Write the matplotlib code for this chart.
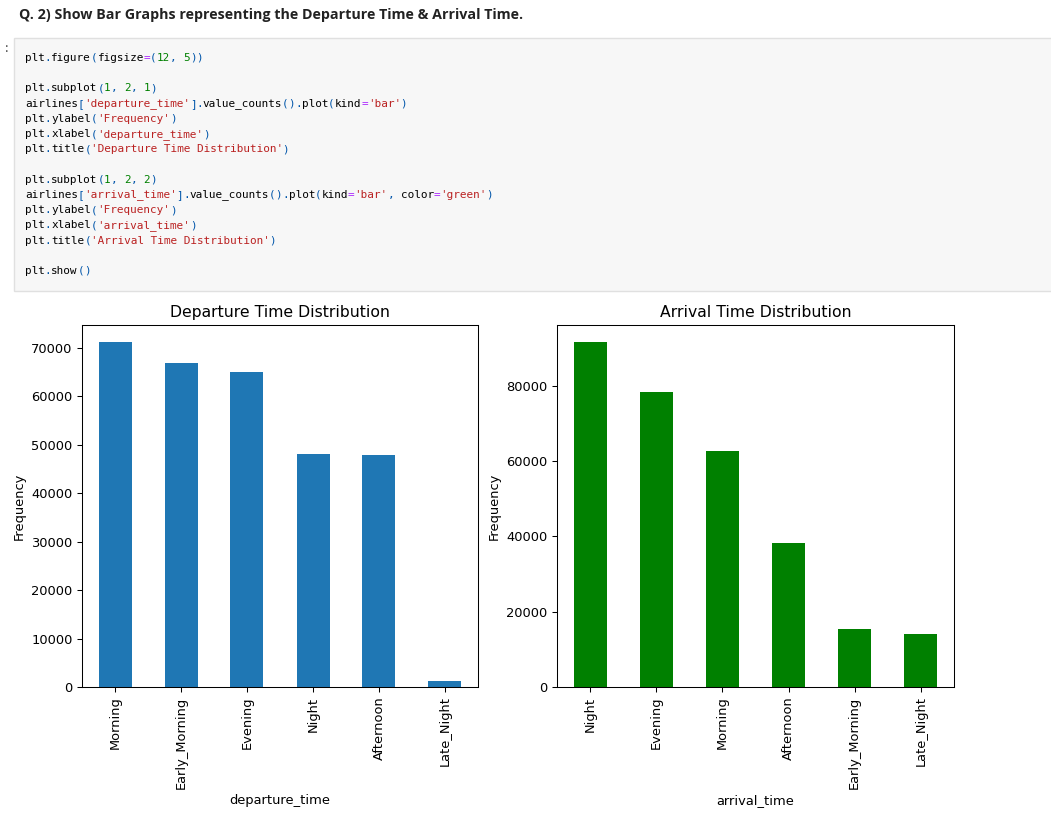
import re
import matplotlib
matplotlib.use("Agg")
import matplotlib.pyplot as plt
from matplotlib.patches import Rectangle

# ---- data ----
dep_categories = ["Morning", "Early_Morning", "Evening", "Night", "Afternoon", "Late_Night"]
dep_counts = [71146, 66790, 65102, 48015, 47794, 1306]
arr_categories = ["Night", "Evening", "Morning", "Afternoon", "Early_Morning", "Late_Night"]
arr_counts = [91538, 78323, 62735, 38139, 15417, 14001]

heading = "Q. 2) Show Bar Graphs representing the Departure Time & Arrival Time."
code_lines = [
    "plt.figure(figsize=(12, 5))",
    "",
    "plt.subplot(1, 2, 1)",
    "airlines['departure_time'].value_counts().plot(kind='bar')",
    "plt.ylabel('Frequency')",
    "plt.xlabel('departure_time')",
    "plt.title('Departure Time Distribution')",
    "",
    "plt.subplot(1, 2, 2)",
    "airlines['arrival_time'].value_counts().plot(kind='bar', color='green')",
    "plt.ylabel('Frequency')",
    "plt.xlabel('arrival_time')",
    "plt.title('Arrival Time Distribution')",
    "",
    "plt.show()",
]

W, H = 1051, 821
fig = plt.figure(figsize=(W / 100, H / 100), dpi=100)
fig.patch.set_facecolor("white")


def fx(px):
    return px / W


def fy(py):
    return 1 - py / H


# heading
fig.text(fx(19), fy(15), heading, family="Open Sans", weight="bold",
         fontsize=10.3, color="#222222", va="center", ha="left")

# prompt
fig.text(fx(3), fy(49), ":", family="DejaVu Sans Mono", fontsize=9,
         color="#616161", va="center")

# code box
fig.patches.append(Rectangle((fx(14), fy(291)), fx(W - 14 + 5), (291 - 38) / H,
                             transform=fig.transFigure, facecolor="#f7f7f7",
                             edgecolor="#e0e0e0", linewidth=1))

tok_re = re.compile(r"('[^']*')|(\d+)|([A-Za-z_]\w*)|(=)|([\[\]().,])|(\s+)")
colors = ["#ba2121", "#008000", "#000000", "#aa22ff", "#0055aa", None]
char_w = 6.59
for i, line in enumerate(code_lines):
    y = 58 + i * 15.21
    for m in tok_re.finditer(line):
        g = m.lastindex
        c = colors[g - 1]
        if c is None:
            continue
        fig.text(fx(25 + m.start() * char_w), fy(y), m.group(), family="DejaVu Sans Mono",
                 fontsize=7.88, color=c, va="center", ha="left")

# ---- charts ----
s = 0.937
plt.rcParams.update({
    "font.size": 10 * s,
    "axes.linewidth": 0.8 * s,
    "xtick.major.size": 3.5 * s,
    "ytick.major.size": 3.5 * s,
    "xtick.major.width": 0.8 * s,
    "ytick.major.width": 0.8 * s,
})

ax1 = fig.add_axes([fx(82), 1 - 687 / H, 396 / W, 362 / H])
ax2 = fig.add_axes([fx(557), 1 - 687 / H, 397 / W, 362 / H])

for ax, cats, vals, col, xl, tt in [
    (ax1, dep_categories, dep_counts, "#1f77b4", "departure_time", "Departure Time Distribution"),
    (ax2, arr_categories, arr_counts, "green", "arrival_time", "Arrival Time Distribution"),
]:
    pos = list(range(len(cats)))
    ax.bar(pos, vals, width=0.5, color=col)
    ax.set_xticks(pos)
    ax.set_xticklabels(cats, rotation=90, fontsize=10 * s)
    ax.set_xlim(-0.5, len(cats) - 0.5)
    ax.tick_params(axis="y", labelsize=10 * s)
    ax.set_ylabel("Frequency", fontsize=10 * s)
    ax.set_xlabel(xl, fontsize=10 * s)
    ax.set_title(tt, fontsize=12 * s)

fig.savefig("out.png", dpi=100)
